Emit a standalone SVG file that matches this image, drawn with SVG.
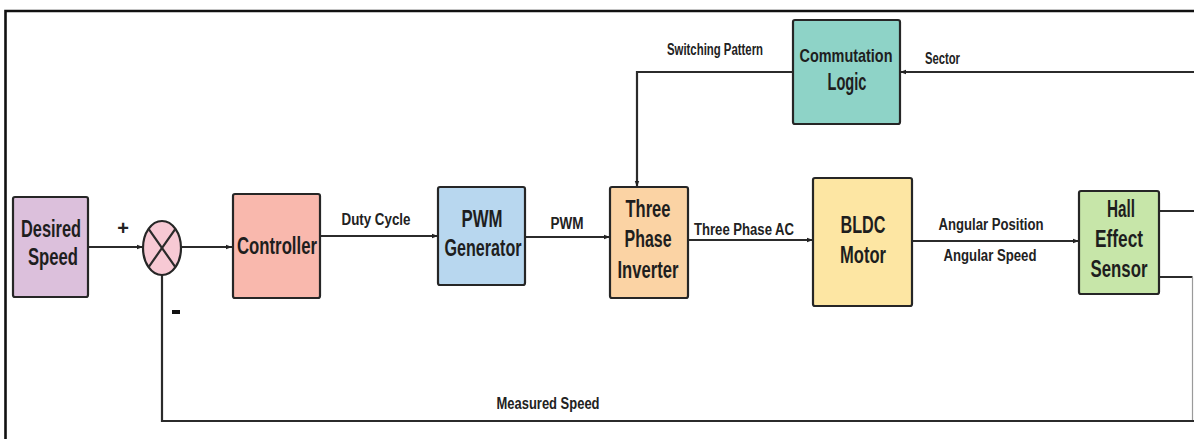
<svg xmlns="http://www.w3.org/2000/svg" width="1194" height="439" viewBox="0 0 1194 439">
  <style>
    .box { stroke: #262626; stroke-width: 2.2; }
    .wire { fill: none; stroke: #2b2b2b; stroke-width: 2.2; }
    .frame { fill: none; stroke: #111; stroke-width: 2.6; }
    .lbl { font-family: "Liberation Sans Narrow", "Liberation Sans", Arial, sans-serif; font-weight: bold; font-size: 23px; fill: #1e1e1e; text-anchor: middle; }
    .elbl { font-family: "Liberation Sans Narrow", "Liberation Sans", Arial, sans-serif; font-weight: bold; font-size: 16px; fill: #222; text-anchor: middle; }
  </style>
  <defs>
    <marker id="arrow" viewBox="0 0 6 6" refX="6" refY="3" markerWidth="6" markerHeight="6" markerUnits="userSpaceOnUse" orient="auto">
      <path d="M0,0.8 L6,3 L0,5.2 Z" fill="#222"/>
    </marker>
  </defs>

  <rect width="1194" height="439" fill="#ffffff"/>

  <!-- outer frame -->
  <path class="frame" d="M5.5,439 V11 H1194"/>

  <!-- connectors -->
  <g id="connectors">
    <path class="wire" d="M88,247 H143" marker-end="url(#arrow)"/>
    <path class="wire" d="M181,247 H232" marker-end="url(#arrow)"/>
    <path class="wire" d="M320,236 H438" marker-end="url(#arrow)"/>
    <path class="wire" d="M525,237 H610" marker-end="url(#arrow)"/>
    <path class="wire" d="M688,240 H813" marker-end="url(#arrow)"/>
    <path class="wire" d="M912,241 H1079" marker-end="url(#arrow)"/>
    <!-- sector signal back to commutation logic -->
    <path class="wire" d="M1159,211 H1194"/>
    <path class="wire" d="M1194,72 H900" marker-end="url(#arrow)"/>
    <!-- switching pattern down to inverter -->
    <path class="wire" d="M793,72 H637 V187" marker-end="url(#arrow)"/>
    <!-- speed feedback -->
    <path class="wire" d="M1159,277 H1192.5"/>
    <path class="wire" d="M1192.5,277 V421" style="stroke:#9a9a9a;stroke-width:1.2"/>
    <path class="wire" d="M1194,421 H162 V275"/>
  </g>

  <!-- connector labels -->
  <g id="edge-labels">
    <text class="elbl" x="376" y="225" textLength="69" lengthAdjust="spacingAndGlyphs">Duty Cycle</text>
    <text class="elbl" x="567" y="229" textLength="33" lengthAdjust="spacingAndGlyphs">PWM</text>
    <text class="elbl" x="744" y="235" textLength="100" lengthAdjust="spacingAndGlyphs">Three Phase AC</text>
    <text class="elbl" x="991" y="230" textLength="105" lengthAdjust="spacingAndGlyphs">Angular Position</text>
    <text class="elbl" x="990" y="261" textLength="93" lengthAdjust="spacingAndGlyphs">Angular Speed</text>
    <text class="elbl" x="715" y="55" textLength="96" lengthAdjust="spacingAndGlyphs">Switching Pattern</text>
    <text class="elbl" x="925" y="64" textLength="35" lengthAdjust="spacingAndGlyphs" style="text-anchor:start">Sector</text>
    <text class="elbl" x="548" y="409" textLength="103" lengthAdjust="spacingAndGlyphs">Measured Speed</text>
    <text class="elbl" x="123" y="235" style="font-size:20px">+</text>
    <rect x="172" y="310" width="8" height="4" fill="#111"/>
  </g>

  <g id="desired-speed">
    <rect class="box" x="13" y="197" width="75" height="100" rx="2" fill="#dcc0dc"/>
    <text class="lbl" x="51" y="237" textLength="60" lengthAdjust="spacingAndGlyphs">Desired</text>
    <text class="lbl" x="53" y="265" textLength="50" lengthAdjust="spacingAndGlyphs">Speed</text>
  </g>

  <g id="summing-junction">
    <ellipse class="box" cx="162" cy="248" rx="19" ry="27" fill="#f7c9d4"/>
    <path class="wire" d="M148.6,228.9 L175.4,267.1 M175.4,228.9 L148.6,267.1"/>
  </g>

  <g id="controller">
    <rect class="box" x="233" y="194" width="87" height="104" rx="2" fill="#f9b8ad"/>
    <text class="lbl" x="277" y="254" textLength="80" lengthAdjust="spacingAndGlyphs">Controller</text>
  </g>

  <g id="pwm-generator">
    <rect class="box" x="438" y="187" width="87" height="98" rx="2" fill="#b8d7ef"/>
    <text class="lbl" x="482" y="227" textLength="41" lengthAdjust="spacingAndGlyphs">PWM</text>
    <text class="lbl" x="483" y="256" textLength="77" lengthAdjust="spacingAndGlyphs">Generator</text>
  </g>

  <g id="three-phase-inverter">
    <rect class="box" x="610" y="187" width="78" height="111" rx="2" fill="#fbd3a4"/>
    <text class="lbl" x="648" y="217" textLength="45" lengthAdjust="spacingAndGlyphs">Three</text>
    <text class="lbl" x="648" y="247" textLength="47" lengthAdjust="spacingAndGlyphs">Phase</text>
    <text class="lbl" x="648" y="278" textLength="61" lengthAdjust="spacingAndGlyphs">Inverter</text>
  </g>

  <g id="bldc-motor">
    <rect class="box" x="813" y="178" width="99" height="128" rx="2" fill="#fde6a3"/>
    <text class="lbl" x="863" y="233" textLength="45" lengthAdjust="spacingAndGlyphs">BLDC</text>
    <text class="lbl" x="863" y="263" textLength="46" lengthAdjust="spacingAndGlyphs">Motor</text>
  </g>

  <g id="hall-effect-sensor">
    <rect class="box" x="1079" y="191" width="80" height="103" rx="2" fill="#c7e6a9"/>
    <text class="lbl" x="1121" y="217" textLength="28" lengthAdjust="spacingAndGlyphs">Hall</text>
    <text class="lbl" x="1119" y="247" textLength="48" lengthAdjust="spacingAndGlyphs">Effect</text>
    <text class="lbl" x="1119" y="277" textLength="57" lengthAdjust="spacingAndGlyphs">Sensor</text>
  </g>

  <g id="commutation-logic">
    <rect class="box" x="793" y="20" width="107" height="104" rx="2" fill="#8ed3c7"/>
    <text class="lbl" x="846" y="62" textLength="93" lengthAdjust="spacingAndGlyphs" style="font-size:19px">Commutation</text>
    <text class="lbl" x="847" y="90" textLength="39" lengthAdjust="spacingAndGlyphs">Logic</text>
  </g>
</svg>
